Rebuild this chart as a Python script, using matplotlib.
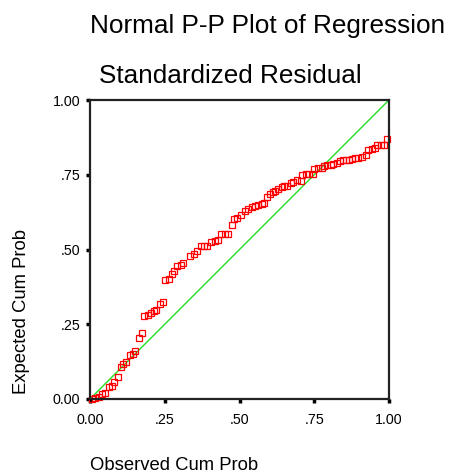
import matplotlib
matplotlib.use("Agg")
import matplotlib.pyplot as plt

plt.rcParams['font.family'] = ['Liberation Sans', 'DejaVu Sans']

# observed cumulative probability (x) and expected cumulative probability (y)
observed = [0.008, 0.017, 0.030, 0.039, 0.050, 0.064, 0.072, 0.081, 0.095, 0.104,
            0.111, 0.119, 0.134, 0.143, 0.151, 0.164, 0.173, 0.182, 0.195, 0.204,
            0.213, 0.221, 0.234, 0.243, 0.251, 0.264, 0.273, 0.281, 0.290, 0.303,
            0.312, 0.334, 0.349, 0.357, 0.371, 0.380, 0.390, 0.405, 0.418, 0.429,
            0.438, 0.452, 0.463, 0.474, 0.483, 0.493, 0.505, 0.518, 0.530, 0.541,
            0.552, 0.563, 0.574, 0.583, 0.591, 0.602, 0.611, 0.619, 0.630, 0.641,
            0.649, 0.658, 0.672, 0.680, 0.691, 0.706, 0.710, 0.721, 0.732, 0.747,
            0.750, 0.764, 0.775, 0.784, 0.794, 0.806, 0.814, 0.825, 0.836, 0.847,
            0.855, 0.867, 0.875, 0.886, 0.897, 0.911, 0.923, 0.931, 0.944, 0.953,
            0.961, 0.972, 0.984, 0.992]
expected = [0.000, 0.002, 0.008, 0.017, 0.021, 0.041, 0.045, 0.058, 0.072, 0.106,
            0.116, 0.125, 0.147, 0.151, 0.159, 0.203, 0.222, 0.278, 0.282, 0.288,
            0.293, 0.296, 0.318, 0.323, 0.397, 0.401, 0.419, 0.427, 0.444, 0.449,
            0.455, 0.479, 0.486, 0.494, 0.511, 0.511, 0.511, 0.524, 0.527, 0.531,
            0.553, 0.553, 0.553, 0.583, 0.602, 0.606, 0.617, 0.628, 0.634, 0.642,
            0.645, 0.648, 0.653, 0.655, 0.677, 0.684, 0.693, 0.697, 0.701, 0.708,
            0.711, 0.714, 0.723, 0.726, 0.731, 0.728, 0.749, 0.753, 0.754, 0.754,
            0.769, 0.771, 0.773, 0.778, 0.781, 0.784, 0.787, 0.790, 0.796, 0.800,
            0.800, 0.801, 0.804, 0.807, 0.807, 0.810, 0.816, 0.832, 0.837, 0.840,
            0.851, 0.851, 0.851, 0.869]

ticks = [0.0, 0.25, 0.5, 0.75, 1.0]
tick_labels = ["0.00", ".25", ".50", ".75", "1.00"]

fig = plt.figure(figsize=(4.51, 4.76), dpi=100)
ax = fig.add_axes([90/451, 77/476, 299/451, 299/476])

ax.plot([0, 1], [0, 1], color="#22dd22", linewidth=1.0, zorder=1)
ax.plot(observed, expected, linestyle="none", marker="s", markersize=4.6,
        markerfacecolor="none", markeredgecolor="#ff0000", markeredgewidth=0.9,
        zorder=2, clip_on=False)

ax.set_xlim(0, 1)
ax.set_ylim(0, 1)
ax.set_xticks(ticks)
ax.set_xticklabels(tick_labels)
ax.set_yticks(ticks)
ax.set_yticklabels(tick_labels)
ax.tick_params(direction="out", length=3, width=2.5, labelsize=10.3, pad=4)
ax.tick_params(axis="x", pad=7)
for sp in ax.spines.values():
    sp.set_linewidth(1.6)
    sp.set_color("#222222")

fig.text(268/451, 1 - 33/476, "Normal P-P Plot of Regression", ha="center", va="baseline", fontsize=18.8)
fig.text(230/451, 1 - 83/476, "Standardized Residual", ha="center", va="baseline", fontsize=18.8)
fig.text(90/451, 1 - 466/476, "Observed Cum Prob", ha="left", va="center", fontsize=13.3)
fig.text(22/451, 1 - 311/476, "Expected Cum Prob", ha="center", va="center",
         rotation=90, fontsize=13.3)

fig.savefig("out.png", dpi=100)
